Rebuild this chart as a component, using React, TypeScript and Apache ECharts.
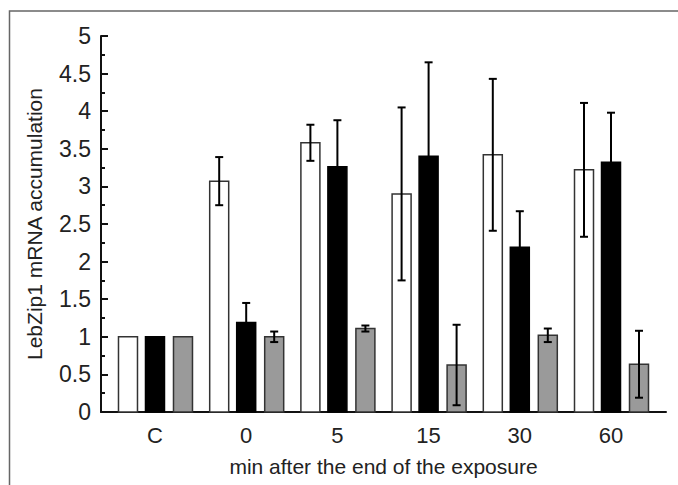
import React, { useEffect, useRef } from "react";
import * as echarts from "echarts";

const categories = ["C", "0", "5", "15", "30", "60"];
const whiteValues = [1, 3.07, 3.58, 2.9, 3.42, 3.22];
const whiteErr = [0, 0.32, 0.24, 1.15, 1.01, 0.89];
const blackValues = [1, 1.19, 3.26, 3.4, 2.19, 3.32];
const blackErr = [0, 0.26, 0.62, 1.25, 0.48, 0.66];
const grayValues = [1, 1.0, 1.11, 0.625, 1.02, 0.635];
const grayErr = [0, 0.07, 0.04, 0.535, 0.09, 0.445];
const yTicks = [0, 0.5, 1, 1.5, 2, 2.5, 3, 3.5, 4, 4.5, 5];

const BAR_W = 19;

function makeSeries(name: string, values: number[], errs: number[], offset: number, fill: string, stroke: string) {
  return {
    type: "custom",
    name,
    clip: false,
    data: values.map((v, i) => [i, v, errs[i]]),
    renderItem: (params: any, api: any) => {
      const x = api.value(0);
      const v = api.value(1);
      const e = api.value(2);
      const base = api.coord([x, 0]);
      const top = api.coord([x, v]);
      const cx = base[0] + offset;
      const children: any[] = [
        {
          type: "rect",
          shape: { x: cx - BAR_W / 2, y: top[1], width: BAR_W, height: base[1] - top[1] },
          style: { fill, stroke, lineWidth: 1.5 },
        },
      ];
      if (e > 0) {
        const hi = api.coord([x, v + e]);
        const lo = api.coord([x, v - e]);
        const ls = { stroke: "#000", lineWidth: 2 };
        children.push(
          { type: "line", shape: { x1: cx, y1: hi[1], x2: cx, y2: lo[1] }, style: ls },
          { type: "line", shape: { x1: cx - 4, y1: hi[1], x2: cx + 4, y2: hi[1] }, style: ls },
          { type: "line", shape: { x1: cx - 4, y1: lo[1], x2: cx + 4, y2: lo[1] }, style: ls }
        );
      }
      return { type: "group", children };
    },
  };
}

export default function App() {
  const ref = useRef<HTMLDivElement>(null);
  useEffect(() => {
    const chart = echarts.init(ref.current!, undefined, { renderer: "svg" });
    const font = "'Liberation Sans', Arial, sans-serif";
    chart.setOption({
      animation: false,
      backgroundColor: "#fff",
      textStyle: { fontFamily: font },
      grid: { left: 101, right: 12, top: 36, bottom: 73, containLabel: false },
      xAxis: {
        type: "value",
        min: -0.592,
        max: 5.603,
        axisLine: { show: true, onZero: false, lineStyle: { color: "#111", width: 2 } },
        axisTick: { show: false },
        splitLine: { show: false },
        axisLabel: {
          customValues: [0, 1, 2, 3, 4, 5],
          formatter: (v: number) => categories[Math.round(v)],
          fontSize: 22,
          color: "#222",
          margin: 12,
          fontFamily: font,
        },
        name: "min after the end of the exposure",
        nameLocation: "middle",
        nameGap: 44,
        nameTextStyle: { fontSize: 21, color: "#222", fontFamily: font },
      },
      yAxis: {
        type: "value",
        min: 0,
        max: 5,
        interval: 0.5,
        axisLine: { show: true, onZero: false, lineStyle: { color: "#111", width: 2 } },
        axisTick: { show: true, inside: true, length: 7, lineStyle: { color: "#111", width: 2 } },
        minorTick: { show: true, splitNumber: 2, length: 4, lineStyle: { color: "#111", width: 2 } },
        splitLine: { show: false },
        axisLabel: {
          customValues: yTicks,
          fontSize: 23,
          color: "#222",
          margin: 10,
          fontFamily: font,
        },
        name: "LebZip1 mRNA accumulation",
        nameLocation: "middle",
        nameGap: 56,
        nameTextStyle: { fontSize: 21, color: "#222", fontFamily: font },
      },
      graphic: [
        {
          type: "rect",
          shape: { x: 9.5, y: 11, width: 700, height: 500 },
          style: { fill: "none", stroke: "#666", lineWidth: 1.5 },
          silent: true,
        },
      ],
      series: [
        makeSeries("white", whiteValues, whiteErr, -27, "#fff", "#333"),
        makeSeries("black", blackValues, blackErr, 0, "#000", "#000"),
        makeSeries("gray", grayValues, grayErr, 28, "#9a9a9a", "#333"),
      ],
    });
    return () => chart.dispose();
  }, []);
  return <div ref={ref} style={{ position: "fixed", left: 0, top: 0, width: 678, height: 485 }} />;
}
